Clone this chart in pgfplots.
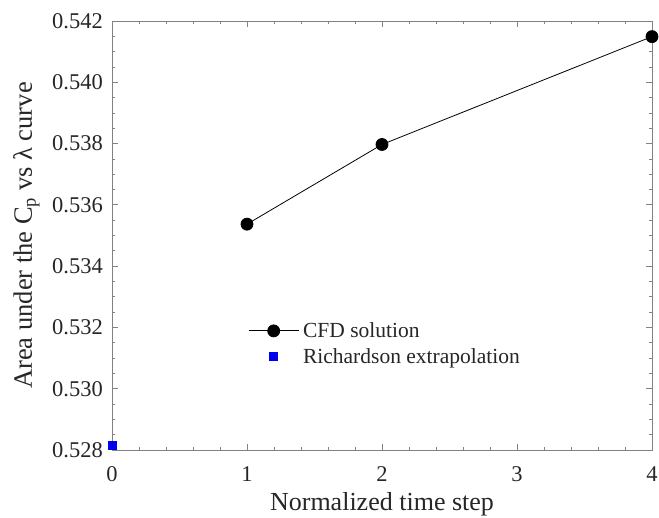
\documentclass[border=0pt]{standalone}
\usepackage{fontspec}
\setmainfont{Liberation Serif}
\usepackage{pgfplots}
\pgfplotsset{compat=1.18}
\definecolor{axgray}{RGB}{130,130,130}
\definecolor{txt}{RGB}{38,38,38}
\definecolor{rblue}{RGB}{0,0,240}
\begin{document}
\begin{tikzpicture}
\begin{axis}[
  scale only axis,
  width=540pt, height=429pt,
  at={(0,0)}, anchor=south west,
  xmin=0, xmax=4, ymin=0.528, ymax=0.542,
  xtick={0,1,2,3,4},
  ytick={0.528,0.530,0.532,0.534,0.536,0.538,0.540,0.542},
  minor x tick num=4,
  minor y tick num=3,
  tick align=inside,
  major tick length=6pt,
  minor tick length=3pt,
  axis line style={axgray, line width=0.8pt},
  every tick/.style={axgray, line width=0.7pt},
  /pgf/number format/assume math mode=true,
  yticklabel style={/pgf/number format/.cd, fixed, fixed zerofill, precision=3, /tikz/.cd},
  scaled y ticks=false,
  tick label style={font=\fontsize{22.5}{26}\selectfont, text=txt},
  xticklabel style={anchor=base, inner sep=0pt, yshift=-32pt},
  yticklabel style={anchor=east, inner sep=0pt, xshift=-9pt},
  xlabel={Normalized time step},
  ylabel={Area under the C\textsubscript{p} vs λ curve},
  every axis x label/.style={at={(rel axis cs:0.5,0)}, anchor=base, yshift=-61pt,
    font=\fontsize{26}{30}\selectfont, text=txt},
  every axis y label/.style={at={(rel axis cs:0,0.5)}, xshift=-80pt, rotate=90, anchor=base,
    font=\fontsize{26.5}{30}\selectfont, text=txt},
  legend image code/.code={\draw[mark repeat=2,mark phase=2,#1] plot coordinates {(0pt,0pt) (25pt,0pt) (50pt,0pt)};},
  legend style={draw=none, fill=none, at={(rel axis cs:0.252,0.248)}, anchor=west,
    font=\fontsize{21.5}{26}\selectfont, text=txt, inner sep=0pt,
    row sep=7pt, cells={anchor=west}, nodes={inner xsep=4pt, inner ysep=1pt}},
  clip=false,
]
\addplot[black, line width=0.8pt, mark=*, mark size=6pt, mark options={fill=black}]
  coordinates {(1,0.53537) (2,0.53797) (4,0.54149)};
\addlegendentry{CFD solution}
\addplot[only marks, mark=square*, mark size=4pt, color=rblue, mark options={fill=rblue}]
  coordinates {(0,0.52816)};
\addlegendentry{Richardson extrapolation}
\end{axis}
\pgfresetboundingbox
\useasboundingbox (-112pt,-68pt) rectangle (547pt,450pt);
\end{tikzpicture}
\end{document}
